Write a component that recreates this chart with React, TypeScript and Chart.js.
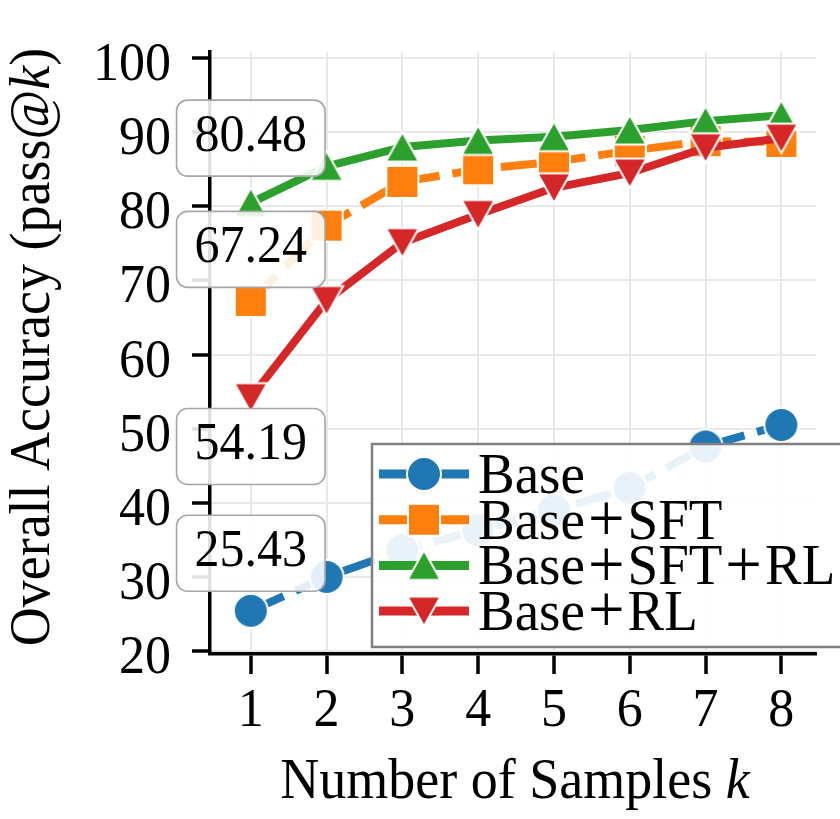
import React, { useEffect, useRef } from "react";
import { Chart, registerables } from "chart.js";

Chart.register(...registerables);

const K = [1, 2, 3, 4, 5, 6, 7, 8];
const BASE = [25.43, 30.0, 33.6, 36.3, 39.0, 42.0, 47.6, 50.5];
const BASE_SFT = [67.24, 77.4, 83.3, 85.0, 86.0, 87.5, 88.8, 88.7];
const BASE_SFT_RL = [80.48, 85.4, 88.0, 88.9, 89.4, 90.3, 91.5, 92.3];
const BASE_RL = [54.19, 67.3, 75.1, 78.9, 82.5, 84.5, 87.9, 89.2];
const Y_TICKS = [20, 30, 40, 50, 60, 70, 80, 90, 100];
const SERIES_NAMES = ["Base", "Base+SFT", "Base+SFT+RL", "Base+RL"];
const COLORS = ["#1f77b4", "#ff7f0e", "#2ca02c", "#d62728"];
const MARKERS = ["circle", "square", "up", "down"];
const DASHED = [true, true, false, false];
// annotation boxes: value shown, and the y (data units) where the box sits at k = 1
const ANNOT_VALUES = [BASE_SFT_RL[0], BASE_SFT[0], BASE_RL[0], BASE[0]];
const ANNOT_Y = [89.2, 74.2, 47.6, 33.2];

const FONT = "'Liberation Serif', 'Times New Roman', serif";
const VSTRETCH = 1.05;

function makeMarker(kind: string, color: string): HTMLCanvasElement {
  const size = 42;
  const c = document.createElement("canvas");
  c.width = size;
  c.height = size;
  const g = c.getContext("2d")!;
  const m = size / 2;
  g.fillStyle = color;
  g.strokeStyle = "#ffffff";
  g.lineWidth = 2;
  g.lineJoin = "miter";
  g.beginPath();
  if (kind === "circle") g.arc(m, m, 17, 0, Math.PI * 2);
  else if (kind === "square") g.rect(m - 16, m - 16, 32, 32);
  else if (kind === "up") {
    g.moveTo(m, m - 15);
    g.lineTo(m + 16.5, m + 14.5);
    g.lineTo(m - 16.5, m + 14.5);
    g.closePath();
  } else {
    g.moveTo(m, m + 15);
    g.lineTo(m + 16.5, m - 14.5);
    g.lineTo(m - 16.5, m - 14.5);
    g.closePath();
  }
  g.fill();
  g.stroke();
  return c;
}

function roundRect(ctx: CanvasRenderingContext2D, x: number, y: number, w: number, h: number, r: number) {
  ctx.beginPath();
  ctx.moveTo(x + r, y);
  ctx.lineTo(x + w - r, y);
  ctx.arcTo(x + w, y, x + w, y + r, r);
  ctx.lineTo(x + w, y + h - r);
  ctx.arcTo(x + w, y + h, x + w - r, y + h, r);
  ctx.lineTo(x + r, y + h);
  ctx.arcTo(x, y + h, x, y + h - r, r);
  ctx.lineTo(x, y + r);
  ctx.arcTo(x, y, x + r, y, r);
  ctx.closePath();
}

type Part = { t: string; italic?: boolean; padL?: number; padR?: number; size?: number; dy?: number };

function fontOf(p: Part, size: number) {
  return `${p.italic ? "italic " : ""}${p.size || size}px ${FONT}`;
}

function measureRich(ctx: CanvasRenderingContext2D, parts: Part[], size: number) {
  return parts.map((p) => {
    ctx.font = fontOf(p, size);
    return ctx.measureText(p.t).width + (p.padL || 0) + (p.padR || 0);
  });
}

// draws rich text with alphabetic baseline at y=0; align: 'center' | 'left' | 'right'
function drawRich(ctx: CanvasRenderingContext2D, parts: Part[], size: number, align: string) {
  const widths = measureRich(ctx, parts, size);
  const total = widths.reduce((a, b) => a + b, 0);
  let x = align === "center" ? -total / 2 : align === "right" ? -total : 0;
  ctx.save();
  ctx.scale(1, VSTRETCH);
  ctx.textAlign = "left";
  ctx.textBaseline = "alphabetic";
  parts.forEach((p, i) => {
    ctx.font = fontOf(p, size);
    ctx.fillText(p.t, x + (p.padL || 0), p.dy || 0);
    x += widths[i];
  });
  ctx.restore();
}

function plusParts(name: string, size: number): Part[] {
  const pieces = name.split("+");
  const parts: Part[] = [];
  pieces.forEach((p, i) => {
    if (i > 0) parts.push({ t: "+", size: size * 1.18, padL: 0.055 * size, padR: 0.055 * size, dy: 2 });
    parts.push({ t: p });
  });
  return parts;
}

export default function App() {
  const ref = useRef<HTMLCanvasElement | null>(null);

  useEffect(() => {
    document.body.style.margin = "0";
    const canvas = ref.current;
    if (!canvas) return;
    const markerImgs = MARKERS.map((m, i) => makeMarker(m, COLORS[i]));
    const seriesData = [BASE, BASE_SFT, BASE_SFT_RL, BASE_RL];

    const overlay = {
      id: "overlay",
      afterDraw(chart: any) {
        const ctx: CanvasRenderingContext2D = chart.ctx;
        const xs = chart.scales.x;
        const ys = chart.scales.y;
        const ca = chart.chartArea;
        ctx.save();
        ctx.fillStyle = "#000";

        // tick labels
        Y_TICKS.forEach((v) => {
          ctx.save();
          ctx.translate(ca.left - 39, ys.getPixelForValue(v) + 22);
          drawRich(ctx, [{ t: String(v) }], 52, "right");
          ctx.restore();
        });
        K.forEach((v) => {
          ctx.save();
          ctx.translate(xs.getPixelForValue(v), 726);
          drawRich(ctx, [{ t: String(v) }], 52, "center");
          ctx.restore();
        });

        // annotation boxes
        ANNOT_VALUES.forEach((v, i) => {
          const text = v.toFixed(2);
          ctx.font = `50px ${FONT}`;
          const tw = ctx.measureText(text).width;
          const w = tw + 36;
          const h = 76;
          const cx = xs.getPixelForValue(1);
          const cy = ys.getPixelForValue(ANNOT_Y[i]);
          roundRect(ctx, cx - w / 2, cy - h / 2, w, h, 11);
          ctx.fillStyle = "rgba(255,255,255,0.88)";
          ctx.fill();
          ctx.strokeStyle = "#a6a6a6";
          ctx.lineWidth = 1.6;
          ctx.stroke();
          ctx.fillStyle = "#000";
          ctx.save();
          ctx.translate(cx, cy + 13);
          drawRich(ctx, [{ t: text }], 50, "center");
          ctx.restore();
        });

        // legend
        const lx = 372;
        const ly = ca.bottom - 210;
        const lw = 520;
        const lh = 203;
        ctx.fillStyle = "rgba(255,255,255,0.9)";
        ctx.fillRect(lx, ly, lw, lh);
        ctx.strokeStyle = "#808080";
        ctx.lineWidth = 2.5;
        ctx.strokeRect(lx, ly, lw, lh);
        SERIES_NAMES.forEach((name, i) => {
          const base = ly + 49 + i * 45.7;
          const my = base - 19;
          ctx.strokeStyle = COLORS[i];
          ctx.lineWidth = 9;
          ctx.lineCap = "butt";
          ctx.beginPath();
          ctx.moveTo(lx + 7, my);
          ctx.lineTo(lx + 37, my);
          ctx.moveTo(lx + 67, my);
          ctx.lineTo(lx + 97, my);
          ctx.stroke();
          if (!DASHED[i]) {
            ctx.beginPath();
            ctx.moveTo(lx + 37, my);
            ctx.lineTo(lx + 67, my);
            ctx.stroke();
          }
          const img = markerImgs[i];
          ctx.drawImage(img, lx + 52 - img.width / 2, my - img.height / 2);
          ctx.fillStyle = "#000";
          ctx.save();
          ctx.translate(lx + 106, base);
          drawRich(ctx, plusParts(name, 55), 55, "left");
          ctx.restore();
        });

        // axis titles
        ctx.fillStyle = "#000";
        ctx.save();
        ctx.translate((ca.left + ca.right) / 2 + 2, 798);
        drawRich(ctx, [{ t: "Number of Samples " }, { t: "k", italic: true }], 54, "center");
        ctx.restore();
        ctx.save();
        ctx.translate(49, (ca.top + ca.bottom) / 2 - 6);
        ctx.rotate(-Math.PI / 2);
        drawRich(ctx, [{ t: "Overall Accuracy (pass@" }, { t: "k", italic: true }, { t: ")" }], 54, "center");
        ctx.restore();

        ctx.restore();
      },
    };

    const datasets = SERIES_NAMES.map((name, i) => ({
      label: name,
      data: K.map((k, j) => ({ x: k, y: seriesData[i][j] })),
      borderColor: COLORS[i],
      backgroundColor: COLORS[i],
      borderWidth: 8,
      borderDash: DASHED[i] ? [36, 13] : [],
      borderCapStyle: "butt" as const,
      borderJoinStyle: "round" as const,
      pointStyle: markerImgs[i],
      pointRadius: 16,
      tension: 0,
      clip: false as any,
      order: 3 - i,
    }));

    const chart = new Chart(canvas, {
      type: "line",
      data: { datasets },
      plugins: [overlay],
      options: {
        animation: false,
        responsive: false,
        devicePixelRatio: 1,
        layout: { padding: { top: 23, right: 0, left: 0, bottom: 0 } },
        plugins: { legend: { display: false }, tooltip: { enabled: false } },
        scales: {
          x: {
            type: "linear",
            min: 0.462,
            max: 8.457,
            afterBuildTicks: (s: any) => {
              s.ticks = K.map((v) => ({ value: v }));
            },
            afterFit: (s: any) => {
              s.height = 165;
            },
            grid: {
              color: "#e8e8e8",
              lineWidth: 2,
              drawTicks: true,
              tickLength: 20,
              tickColor: "#000",
              tickWidth: 3.5,
            },
            border: { color: "#000", width: 3.5 },
            ticks: {
              color: "rgba(0,0,0,0)",
              font: { family: FONT, size: 52 },
              padding: 4,
              maxRotation: 0,
              autoSkip: false,
              callback: (v: any) => String(v),
            },
          },
          y: {
            type: "linear",
            min: 19.6,
            max: 100.8,
            afterBuildTicks: (s: any) => {
              s.ticks = Y_TICKS.map((v) => ({ value: v }));
            },
            afterFit: (s: any) => {
              s.width = 210;
            },
            grid: {
              color: "#e8e8e8",
              lineWidth: 2,
              drawTicks: true,
              tickLength: 18,
              tickColor: "#000",
              tickWidth: 3.5,
            },
            border: { color: "#000", width: 3.5 },
            ticks: {
              color: "rgba(0,0,0,0)",
              font: { family: FONT, size: 52 },
              padding: 21,
              autoSkip: false,
              callback: (v: any) => String(v),
            },
          },
        },
      },
    } as any);
    return () => chart.destroy();
  }, []);

  return (
    <div style={{ width: 840, height: 819, position: "relative", overflow: "hidden" }}>
      <canvas ref={ref} width={840} height={819} style={{ display: "block" }} />
    </div>
  );
}
